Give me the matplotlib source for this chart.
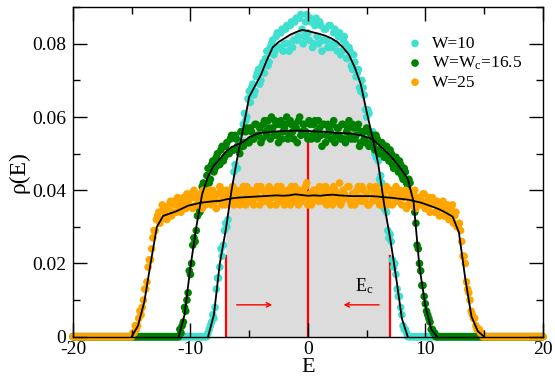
import numpy as np
import matplotlib
matplotlib.use('Agg')
import matplotlib.pyplot as plt
from matplotlib.ticker import MultipleLocator, FuncFormatter

plt.rcParams['font.family'] = ['Liberation Serif', 'DejaVu Serif']
plt.rcParams['mathtext.fontset'] = 'custom'
plt.rcParams['mathtext.rm'] = 'Liberation Serif'
plt.rcParams['mathtext.it'] = 'Liberation Serif:italic'
plt.rcParams['axes.unicode_minus'] = False

# ---------------- data ----------------
labels = ['W=10', r'W=W$_{\mathrm{c}}$=16.5', 'W=25']
colors = ['#40e0d0', '#008000', '#ffa500']

# smoothed (black) curves, step 0.5
curve10_range = (-8.5, 8.5)
curve10 = [0.0, 0.006, 0.020, 0.029, 0.040, 0.049, 0.057, 0.0655, 0.0685, 0.0715,
           0.0755, 0.0790, 0.0805, 0.0815, 0.0825, 0.0832, 0.0838, 0.0835, 0.0831,
           0.0827, 0.0822, 0.0815, 0.0805, 0.0790, 0.0770, 0.0735, 0.0690, 0.0615,
           0.0545, 0.0470, 0.0360, 0.0270, 0.0165, 0.0050, 0.0]

curve16_range = (-11.0, 11.0)
curve16 = [0.0, 0.006, 0.019, 0.030, 0.039, 0.0438, 0.0468, 0.0485, 0.0505, 0.0518,
           0.0525, 0.0532, 0.0545, 0.0552, 0.0557, 0.0558, 0.0560, 0.0561, 0.0562,
           0.0562, 0.0563, 0.0562, 0.0562, 0.0561, 0.0560, 0.0560, 0.0558, 0.0556,
           0.0556, 0.0555, 0.0553, 0.0550, 0.0545, 0.0540, 0.0525, 0.0510, 0.0495,
           0.0476, 0.0455, 0.0432, 0.0368, 0.0190, 0.0085, 0.0020, 0.0]

curve25_range = (-15.0, 15.0)
curve25 = [0.0, 0.003, 0.0095, 0.020, 0.030, 0.0330, 0.0336, 0.0342, 0.0350, 0.0358,
           0.0362, 0.0366, 0.0368, 0.0370, 0.0371, 0.0375, 0.0378, 0.0380, 0.0381,
           0.0382, 0.0383, 0.0384, 0.0385, 0.0386, 0.0385, 0.0386, 0.0389, 0.0387,
           0.0385, 0.0386, 0.0385, 0.0387, 0.0388, 0.0386, 0.0385, 0.0384, 0.0384,
           0.0384, 0.0384, 0.0383, 0.0381, 0.0380, 0.0378, 0.0376, 0.0374, 0.0370,
           0.0366, 0.0360, 0.0354, 0.0347, 0.0338, 0.0328, 0.0285, 0.0160, 0.0055,
           0.0015, 0.0]

# raw points, two interleaved samplings (step 0.2 each), zero outside the band
pts10a_range = (-8.6, 8.6)
pts10a = [0.000, 0.002, 0.004, 0.005, 0.013, 0.016, 0.024, 0.025, 0.031, 0.032,
          0.040, 0.041, 0.047, 0.046, 0.054, 0.056, 0.061, 0.060, 0.067, 0.068,
          0.066, 0.071, 0.073, 0.070, 0.075, 0.076, 0.074, 0.079, 0.081, 0.078,
          0.083, 0.079, 0.084, 0.080, 0.085, 0.078, 0.086, 0.081, 0.087, 0.082,
          0.088, 0.080, 0.086, 0.083, 0.087, 0.079, 0.085, 0.082, 0.086, 0.078,
          0.084, 0.081, 0.085, 0.079, 0.083, 0.080, 0.082, 0.077, 0.081, 0.080,
          0.076, 0.078, 0.073, 0.075, 0.072, 0.068, 0.070, 0.066, 0.060, 0.061,
          0.055, 0.054, 0.049, 0.048, 0.044, 0.037, 0.036, 0.029, 0.028, 0.021,
          0.020, 0.013, 0.011, 0.006, 0.002, 0.001, 0.000]
pts10b_range = (-8.5, 8.5)
pts10b = [0.001, 0.003, 0.006, 0.008, 0.016, 0.019, 0.022, 0.029, 0.030, 0.037,
          0.039, 0.045, 0.046, 0.052, 0.053, 0.058, 0.059, 0.065, 0.064, 0.069,
          0.067, 0.072, 0.069, 0.074, 0.072, 0.078, 0.075, 0.080, 0.077, 0.082,
          0.079, 0.083, 0.078, 0.084, 0.080, 0.085, 0.079, 0.086, 0.081, 0.087,
          0.084, 0.082, 0.088, 0.081, 0.086, 0.080, 0.087, 0.080, 0.085, 0.081,
          0.084, 0.079, 0.085, 0.080, 0.084, 0.078, 0.083, 0.078, 0.082, 0.076,
          0.079, 0.074, 0.077, 0.071, 0.073, 0.067, 0.068, 0.062, 0.062, 0.056,
          0.056, 0.050, 0.050, 0.043, 0.042, 0.035, 0.034, 0.027, 0.026, 0.019,
          0.017, 0.011, 0.008, 0.003, 0.002, 0.000]

pts16a_range = (-11.0, 11.0)
pts16a = [0.000, 0.001, 0.004, 0.007, 0.012, 0.017, 0.025, 0.026, 0.033, 0.034,
          0.041, 0.040, 0.044, 0.042, 0.047, 0.045, 0.049, 0.047, 0.051, 0.048,
          0.052, 0.050, 0.054, 0.051, 0.055, 0.052, 0.050, 0.056, 0.053, 0.057,
          0.053, 0.056, 0.054, 0.058, 0.055, 0.053, 0.058, 0.056, 0.059, 0.054,
          0.057, 0.059, 0.055, 0.058, 0.054, 0.057, 0.060, 0.055, 0.058, 0.054,
          0.057, 0.059, 0.055, 0.058, 0.056, 0.054, 0.058, 0.055, 0.059, 0.054,
          0.057, 0.052, 0.058, 0.055, 0.057, 0.054, 0.059, 0.055, 0.057, 0.054,
          0.058, 0.053, 0.057, 0.055, 0.058, 0.054, 0.057, 0.052, 0.056, 0.054,
          0.057, 0.052, 0.055, 0.052, 0.055, 0.051, 0.053, 0.050, 0.052, 0.049,
          0.051, 0.047, 0.049, 0.046, 0.048, 0.044, 0.046, 0.042, 0.043, 0.038,
          0.037, 0.031, 0.024, 0.018, 0.014, 0.009, 0.006, 0.004, 0.002, 0.001,
          0.000]
pts16b_range = (-10.9, 10.9)
pts16b = [0.002, 0.003, 0.008, 0.010, 0.018, 0.020, 0.027, 0.029, 0.035, 0.036,
          0.042, 0.041, 0.046, 0.043, 0.048, 0.046, 0.050, 0.047, 0.052, 0.049,
          0.053, 0.050, 0.055, 0.051, 0.054, 0.051, 0.056, 0.052, 0.056, 0.053,
          0.057, 0.054, 0.058, 0.055, 0.057, 0.054, 0.059, 0.055, 0.057, 0.060,
          0.055, 0.058, 0.053, 0.059, 0.056, 0.058, 0.054, 0.059, 0.056, 0.058,
          0.053, 0.060, 0.056, 0.058, 0.055, 0.059, 0.054, 0.058, 0.056, 0.059,
          0.055, 0.058, 0.053, 0.058, 0.056, 0.058, 0.053, 0.057, 0.055, 0.058,
          0.054, 0.056, 0.059, 0.054, 0.057, 0.055, 0.058, 0.053, 0.056, 0.053,
          0.056, 0.053, 0.055, 0.051, 0.054, 0.050, 0.053, 0.049, 0.052, 0.048,
          0.050, 0.046, 0.049, 0.045, 0.047, 0.043, 0.045, 0.041, 0.042, 0.036,
          0.034, 0.025, 0.020, 0.014, 0.011, 0.007, 0.005, 0.002, 0.001, 0.000]

pts25a_range = (-15.0, 15.0)
pts25a = [0.000, 0.001, 0.002, 0.005, 0.006, 0.010, 0.013, 0.019, 0.021, 0.027,
          0.029, 0.033, 0.031, 0.036, 0.034, 0.032, 0.036, 0.033, 0.037, 0.034,
          0.036, 0.034, 0.038, 0.035, 0.037, 0.039, 0.035, 0.038, 0.036, 0.039,
          0.035, 0.038, 0.037, 0.040, 0.036, 0.038, 0.035, 0.039, 0.037, 0.040,
          0.036, 0.039, 0.038, 0.041, 0.037, 0.039, 0.036, 0.040, 0.038, 0.041,
          0.037, 0.039, 0.036, 0.040, 0.038, 0.041, 0.037, 0.039, 0.040, 0.036,
          0.039, 0.038, 0.041, 0.037, 0.040, 0.036, 0.039, 0.038, 0.041, 0.037,
          0.040, 0.036, 0.039, 0.038, 0.041, 0.036, 0.039, 0.037, 0.040, 0.038,
          0.041, 0.037, 0.039, 0.036, 0.040, 0.038, 0.041, 0.037, 0.039, 0.036,
          0.040, 0.038, 0.041, 0.037, 0.039, 0.036, 0.040, 0.038, 0.041, 0.037,
          0.039, 0.036, 0.040, 0.038, 0.041, 0.037, 0.039, 0.036, 0.040, 0.037,
          0.040, 0.036, 0.039, 0.037, 0.040, 0.036, 0.039, 0.035, 0.038, 0.036,
          0.039, 0.035, 0.038, 0.036, 0.039, 0.035, 0.037, 0.034, 0.038, 0.034,
          0.037, 0.033, 0.036, 0.033, 0.035, 0.032, 0.035, 0.031, 0.034, 0.030,
          0.029, 0.022, 0.020, 0.013, 0.010, 0.006, 0.005, 0.002, 0.002, 0.001,
          0.000]
pts25b_range = (-14.9, 14.9)
pts25b = [0.001, 0.003, 0.003, 0.007, 0.008, 0.013, 0.015, 0.021, 0.024, 0.029,
          0.032, 0.034, 0.032, 0.035, 0.033, 0.035, 0.037, 0.034, 0.036, 0.038,
          0.035, 0.037, 0.036, 0.039, 0.036, 0.038, 0.040, 0.036, 0.038, 0.037,
          0.040, 0.036, 0.039, 0.038, 0.040, 0.037, 0.039, 0.041, 0.036, 0.038,
          0.040, 0.037, 0.039, 0.036, 0.040, 0.038, 0.037, 0.041, 0.036, 0.039,
          0.040, 0.037, 0.039, 0.041, 0.036, 0.040, 0.038, 0.037, 0.041, 0.038,
          0.040, 0.036, 0.039, 0.041, 0.038, 0.037, 0.040, 0.036, 0.039, 0.041,
          0.038, 0.040, 0.037, 0.039, 0.042, 0.038, 0.036, 0.040, 0.039, 0.037,
          0.040, 0.038, 0.041, 0.037, 0.039, 0.036, 0.040, 0.038, 0.042, 0.037,
          0.039, 0.038, 0.041, 0.036, 0.039, 0.038, 0.041, 0.037, 0.040, 0.038,
          0.036, 0.041, 0.037, 0.039, 0.040, 0.036, 0.039, 0.038, 0.041, 0.036,
          0.039, 0.038, 0.041, 0.037, 0.039, 0.038, 0.040, 0.036, 0.039, 0.037,
          0.040, 0.036, 0.038, 0.037, 0.039, 0.035, 0.038, 0.036, 0.037, 0.034,
          0.036, 0.035, 0.037, 0.033, 0.036, 0.034, 0.036, 0.033, 0.030, 0.031,
          0.026, 0.022, 0.015, 0.012, 0.007, 0.005, 0.003, 0.002, 0.001, 0.000]

# critical energy markers
Ec = 7.0
red_line_x = [-Ec, 0.0, Ec]
red_line_top = [0.022, 0.053, 0.022]

x_limits = (-20, 20)
y_limits = (0, 0.09)

# ---------------- plot ----------------
fig = plt.figure(figsize=(5.55, 3.80), dpi=100)
ax = fig.add_axes([0.1315, 0.114, 0.8465, 0.867])

def grid(rng, vals):
    return np.linspace(rng[0], rng[1], len(vals))

c10x = grid(curve10_range, curve10)
c10y = np.array(curve10)
mask = (c10x >= -Ec - 1e-9) & (c10x <= Ec + 1e-9)
ax.fill_between(c10x[mask], 0, c10y[mask], color='#dcdcdc', lw=0, zorder=0)

for xv, top in zip(red_line_x, red_line_top):
    ax.plot([xv, xv], [0, top], color='red', lw=1.6, zorder=0.5)

zero_x = np.arange(-20, 20.001, 0.1)
series = [[(pts10a_range, pts10a), (pts10b_range, pts10b)],
          [(pts16a_range, pts16a), (pts16b_range, pts16b)],
          [(pts25a_range, pts25a), (pts25b_range, pts25b)]]
for i, (parts, col, lab) in enumerate(zip(series, colors, labels)):
    lo = min(p[0][0] for p in parts)
    hi = max(p[0][1] for p in parts)
    zx = zero_x[(zero_x < lo - 0.05) | (zero_x > hi + 0.05)]
    xs = [zx] + [grid(r, v) for r, v in parts]
    ys = [np.zeros(len(zx))] + [np.array(v) for r, v in parts]
    ax.scatter(np.concatenate(xs), np.concatenate(ys), s=30, color=col,
               edgecolors='none', zorder=1 + 0.1 * i, clip_on=False, label=lab)

for rng, vals in [(curve10_range, curve10), (curve16_range, curve16), (curve25_range, curve25)]:
    ax.plot(grid(rng, vals), vals, color='black', lw=1.3, zorder=2)

ax.annotate('', xy=(-2.8, 0.0087), xytext=(-6.3, 0.0087),
            arrowprops=dict(arrowstyle='->', color='red', lw=1.0, mutation_scale=8), zorder=3)
ax.annotate('', xy=(2.8, 0.0087), xytext=(6.3, 0.0087),
            arrowprops=dict(arrowstyle='->', color='red', lw=1.0, mutation_scale=8), zorder=3)
ax.text(4.0, 0.0123, r'E$_{\mathrm{c}}$', fontsize=13, ha='left', va='baseline')

ax.set_xlim(*x_limits)
ax.set_ylim(*y_limits)
ax.xaxis.set_major_locator(MultipleLocator(10))
ax.xaxis.set_minor_locator(MultipleLocator(5))
ax.yaxis.set_major_locator(MultipleLocator(0.02))
ax.yaxis.set_minor_locator(MultipleLocator(0.01))
ax.yaxis.set_major_formatter(FuncFormatter(lambda v, p: '0' if abs(v) < 1e-12 else f'{v:.2f}'))
ax.xaxis.set_major_formatter(FuncFormatter(lambda v, p: f'{v:.0f}'))
ax.tick_params(which='both', direction='in', top=True, right=True, width=1.0)
ax.tick_params(which='major', length=10, labelsize=14, pad=5)
ax.tick_params(axis='x', which='major', pad=3)
ax.tick_params(which='minor', length=5)
for sp in ax.spines.values():
    sp.set_linewidth(1.0)

ax.set_xlabel('E', fontsize=16, labelpad=0)
ax.set_ylabel('ρ(E)', fontsize=17, labelpad=2)

ax.legend(loc='upper left', bbox_to_anchor=(0.68, 0.95), frameon=False, fontsize=12.5,
          handletextpad=0.4, handlelength=1.2, labelspacing=0.15, borderpad=0.2,
          scatterpoints=1)

fig.savefig('out.png', dpi=100)
